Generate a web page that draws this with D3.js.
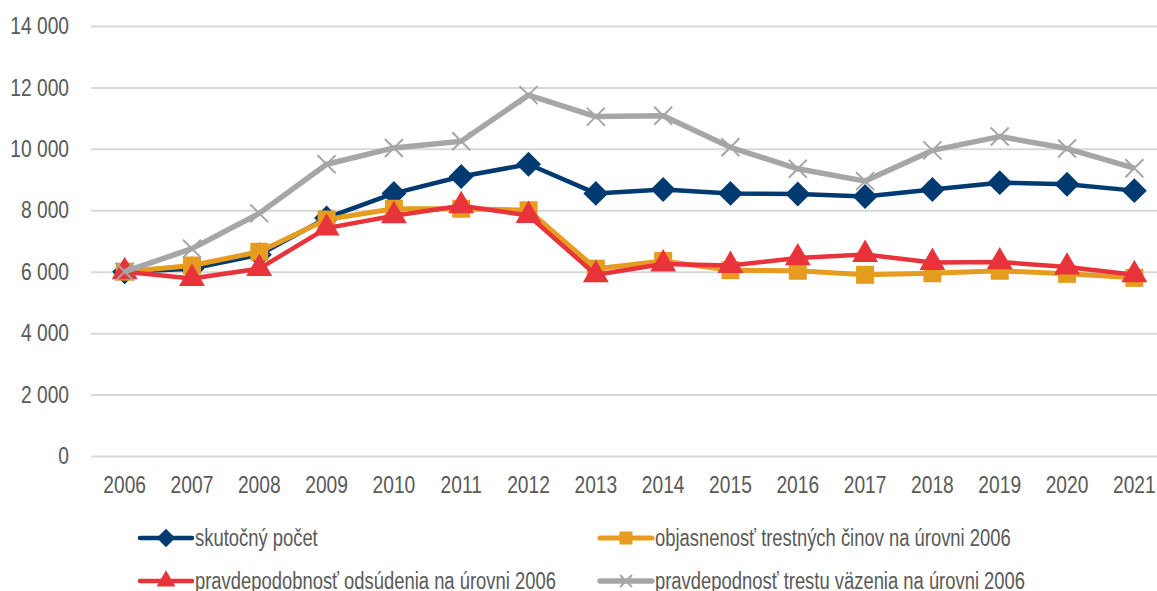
<!DOCTYPE html>
<html>
<head>
<meta charset="utf-8">
<script src="https://cdn.jsdelivr.net/npm/d3@7"></script>
<style>
  body { margin: 0; background: #fff; }
  text { font-family: "Liberation Sans Narrow", "Arial Narrow", "Liberation Sans", sans-serif; fill: #595959; }
</style>
</head>
<body>
<div id="chart"></div>
<script>
// data
const years = ["2006","2007","2008","2009","2010","2011","2012","2013","2014","2015","2016","2017","2018","2019","2020","2021"];
const skutocny = [6000, 6100, 6550, 7750, 8550, 9100, 9500, 8550, 8680, 8550, 8530, 8450, 8680, 8900, 8850, 8640];
const objasnenost = [6000, 6200, 6650, 7700, 8050, 8050, 8000, 6100, 6350, 6050, 6030, 5900, 5950, 6030, 5930, 5800];
const odsudenie = [6000, 5780, 6100, 7420, 7820, 8150, 7830, 5900, 6250, 6200, 6450, 6560, 6300, 6320, 6150, 5900];
const vazenie = [6000, 6750, 7900, 9500, 10030, 10250, 11750, 11050, 11080, 10050, 9350, 8950, 9950, 10400, 10010, 9370];
const yTicks = [0, 2000, 4000, 6000, 8000, 10000, 12000, 14000];
const seriesNames = ["skutočný počet", "objasnenosť trestných činov na úrovni 2006",
  "pravdepodobnosť odsúdenia na úrovni 2006", "pravdepodnosť trestu väzenia na úrovni 2006"];

const W = 1157, H = 591;
const margin = { top: 26, left: 91, right: -11, bottom: 135 };

const svg = d3.select('#chart')
  .append('svg')
  .attr('width', W)
  .attr('height', H);

// narrow font look: squeeze text horizontally, anchor kept
function condense(sel, k) {
  sel.each(function () {
    const w = this.getComputedTextLength();
    d3.select(this).attr("textLength", w * k).attr("lengthAdjust", "spacingAndGlyphs");
  });
}

const x = d3.scaleBand()
  .domain(years)
  .range([margin.left, W - margin.right]);
const cx = d => x(d) + x.bandwidth() / 2;

const y = d3.scaleLinear()
  .domain([0, 14000])
  .range([H - margin.bottom, margin.top]);

const fmt = v => d3.format(",")(v).replace(/,/g, " ");

// gridlines + y labels
svg.append("g")
  .attr("transform", `translate(${margin.left},0)`)
  .call(d3.axisLeft(y).tickValues(yTicks).tickSize(-(W - margin.right - margin.left)).tickPadding(22).tickFormat(fmt))
  .call(g => g.select(".domain").remove())
  .call(g => g.selectAll(".tick line").attr("stroke", "#d9d9d9").attr("stroke-width", 2))
  .call(g => g.selectAll(".tick text").style("font-size", "24px").attr("fill", "#595959").call(condense, 0.8));

// x labels
svg.append("g")
  .attr("transform", `translate(0,${H - margin.bottom})`)
  .call(d3.axisBottom(x).tickSize(0).tickPadding(20))
  .call(g => g.select(".domain").remove())
  .call(g => g.selectAll(".tick text").style("font-size", "24px").attr("fill", "#595959").call(condense, 0.8));

const series = [
  { name: seriesNames[0], values: skutocny, color: "#003a70", width: 4.5, marker: "diamond" },
  { name: seriesNames[1], values: objasnenost, color: "#e59c1f", width: 5, marker: "square" },
  { name: seriesNames[2], values: odsudenie, color: "#e8333a", width: 4.5, marker: "triangle" },
  { name: seriesNames[3], values: vazenie, color: "#a6a6a6", width: 5.5, marker: "cross" }
];

const line = d3.line()
  .x((d, i) => cx(years[i]))
  .y(d => y(d));

function drawMarker(g, type, color, px, py, s) {
  if (type === "diamond") {
    g.append("path").attr("d", d3.symbol().type(d3.symbolDiamond2).size(s * s * 1.1)())
      .attr("transform", `translate(${px},${py})`).attr("fill", color);
  } else if (type === "square") {
    g.append("rect").attr("x", px - s / 2).attr("y", py - s / 2)
      .attr("width", s).attr("height", s).attr("fill", color);
  } else if (type === "triangle") {
    g.append("path").attr("d", d3.symbol().type(d3.symbolTriangle).size(s * s * 0.6)())
      .attr("transform", `translate(${px},${py})`).attr("fill", color);
  } else {
    const h = s / 2;
    g.append("path").attr("d", `M${px - h},${py - h}L${px + h},${py + h}M${px - h},${py + h}L${px + h},${py - h}`)
      .attr("stroke", color).attr("stroke-width", 2).attr("fill", "none");
  }
}

const sizes = { diamond: 19, square: 18, triangle: 22, cross: 18 };

series.forEach(s => {
  const g = svg.append("g");
  g.append("path")
    .datum(s.values)
    .attr("fill", "none")
    .attr("stroke", s.color)
    .attr("stroke-width", s.width)
    .attr("stroke-linejoin", "round")
    .attr("d", line);
  s.values.forEach((v, i) => drawMarker(g, s.marker, s.color, cx(years[i]), y(v), sizes[s.marker]));
});

// legend
const legendPos = [[140, 538], [600, 538], [140, 581], [600, 581]];
const legendSizes = { diamond: 14, square: 13, triangle: 16, cross: 12 };
series.forEach((s, i) => {
  const [lx, ly] = legendPos[i];
  const g = svg.append("g");
  g.append("line")
    .attr("x1", lx).attr("x2", lx + 52).attr("y1", ly).attr("y2", ly)
    .attr("stroke", s.color).attr("stroke-width", s.width).attr("stroke-linecap", "round");
  drawMarker(g, s.marker, s.color, lx + 26, ly, legendSizes[s.marker]);
  g.append("text")
    .attr("x", lx + 55)
    .attr("y", ly)
    .attr("dy", "0.35em")
    .style("font-size", "23px")
    .text(s.name)
    .call(condense, 0.8);
});
</script>
</body>
</html>
